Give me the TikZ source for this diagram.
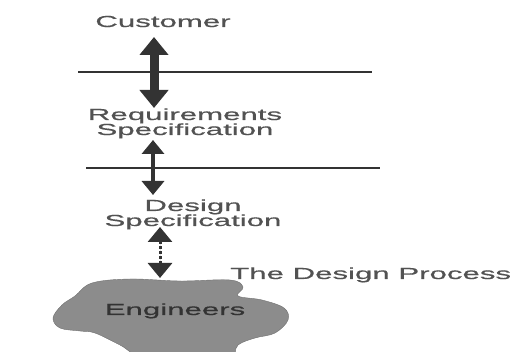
\documentclass[tikz,border=0pt]{standalone}
\usepackage{fontspec}
\setmainfont[FakeStretch=1.95, FakeBold=0.6]{Liberation Sans}
\usetikzlibrary{arrows.meta}
\definecolor{ink}{gray}{0.32}
\definecolor{rule}{gray}{0.2}
\definecolor{blob}{gray}{0.55}
\begin{document}
\begin{tikzpicture}[x=1pt, y=-1pt, font=\fontsize{16}{15}\selectfont,
  lbl/.style={text=ink, inner sep=0pt, align=center},
  divider/.style={draw=rule, line width=2.6pt},
  link/.style={draw=rule, fill=rule}]
  \useasboundingbox (0,0) rectangle (522,352);
  \clip (0,0) rectangle (522,352);
  % labels
  \node[lbl, anchor=base] (customer) at (163,27) {Customer};
  \node[lbl, anchor=base] (reqspec) at (185,135) {Requirements\\Specification};
  \node[lbl, anchor=base] (desspec) at (193,226) {Design\\Specification};
  \node[lbl, anchor=base west] (process) at (230,279) {The Design Process};
  % the engineers
  \draw[fill=blob, draw=blob!80!black, thin, tension=0.6] plot[smooth cycle] coordinates {
    (75,296) (92,283) (130,279) (180,281) (230,280) (243,287) (238,296)
    (262,300) (284,308) (288,320) (275,333) (255,338) (238,345) (225,360)
    (150,360) (120,345) (95,333) (80,331) (60,328) (53,318) (62,305)};
  \node[lbl, anchor=base, text=black!80] (engineers) at (175,315) {Engineers};
  % dividers
  \coordinate (d1w) at (78,72);  \coordinate (d1e) at (372,72);
  \coordinate (d2w) at (86,168); \coordinate (d2e) at (380,168);
  \draw[divider] (d1w) -- (d1e);
  \draw[divider] (d2w) -- (d2e);
  % exchanges
  \coordinate (a1t) at (154,37);  \coordinate (a1b) at (154,108);
  \coordinate (a2t) at (153,140); \coordinate (a2b) at (153,195);
  \coordinate (a3t) at (160,227); \coordinate (a3b) at (160,278);
  \draw[link, line width=9pt, {Triangle[width=28pt,length=18pt]}-{Triangle[width=28pt,length=18pt]}] (a1t) -- (a1b);
  \draw[link, line width=3.5pt, {Triangle[width=22pt,length=14pt]}-{Triangle[width=22pt,length=14pt]}] (a2t) -- (a2b);
  \draw[link, line width=3pt, densely dashed, {Triangle[width=24pt,length=15pt]}-{Triangle[width=24pt,length=15pt]}] (a3t) -- (a3b);
\end{tikzpicture}
\end{document}
